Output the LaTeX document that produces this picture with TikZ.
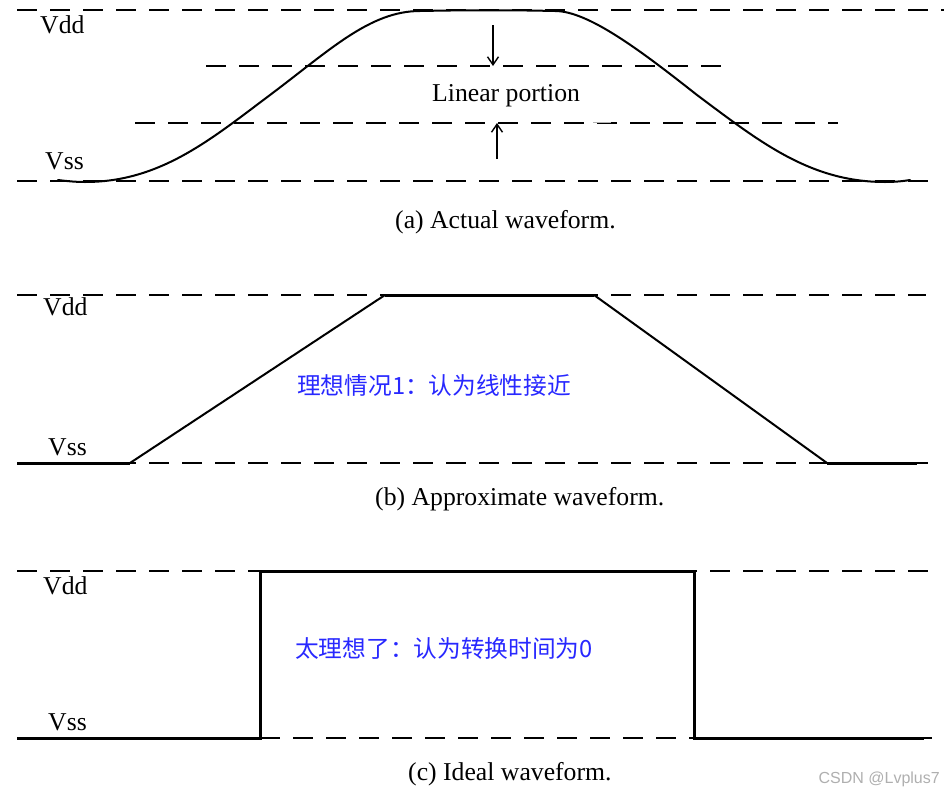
\documentclass[tikz,border=0pt]{standalone}
\usepackage{fontspec}
\setmainfont{Liberation Serif}
\newfontfamily\cjk{Noto Sans CJK SC}
\newfontfamily\wmfont{Liberation Sans}
\usetikzlibrary{arrows.meta}
\definecolor{noteblue}{RGB}{40,40,255}
\definecolor{wmgray}{RGB}{175,175,175}
\begin{document}
\begin{tikzpicture}[x=1pt,y=-1pt,
  dashline/.style={line width=2.4pt, dash pattern=on 20pt off 13pt},
  wave/.style={line width=2pt, line join=round, line cap=round},
  thickwave/.style={line width=3pt},
  lbl/.style={font=\fontsize{25.7}{30}\selectfont, inner sep=0pt, anchor=base west},
  note/.style={font=\cjk\fontsize{23.7}{28}\selectfont, text=noteblue, inner sep=0pt, anchor=west},
  marker/.style={line width=1.6pt, -{Straight Barb[length=8pt,width=11pt,line width=1.4pt]}},
]
\useasboundingbox (0,0) rectangle (944,795);

% ---------------- (a) actual waveform ----------------
\draw[dashline] (17,10) -- (944,10);
\draw[dashline] (206,66) -- (732,66);
\draw[dashline] (135,123) -- (838,123);
\draw[dashline] (17,181) -- (932,181);
\draw[line width=1pt, gray!60] (593,122) -- (611,122);

\draw[wave] (58,180) .. controls (66,181) and (75,182) .. (85,182)
  .. controls (160,182) and (210,140) .. (270,95)
  .. controls (330,50) and (370,11) .. (420,11)
  .. controls (470,10) and (510,10) .. (555,11)
  .. controls (588,11) and (640,50) .. (697,95)
  .. controls (760,142) and (810,182) .. (885,182)
  .. controls (896,182) and (904,181) .. (910,180);

\node[lbl] (vdda) at (40,33) {Vdd};
\node[lbl] (vssa) at (45,169) {Vss};
\node[lbl] (lin) at (432,101) {Linear portion};

\coordinate (adtop) at (493,25);
\coordinate (adbot) at (493,66);
\coordinate (aubot) at (497,159);
\coordinate (autop) at (497,123);
\draw[marker] (adtop) -- (adbot);
\draw[marker] (aubot) -- (autop);

\node[lbl] (capa) at (395,228) {(a) Actual waveform.};

% ---------------- (b) approximate waveform ----------------
\draw[dashline] (17,295) -- (926,295);
\draw[dashline] (17,463) -- (936,463);
\draw[thickwave] (17,463) -- (130,463);
\draw[wave] (130,463) -- (385,295);
\draw[thickwave] (385,295) -- (594,295);
\draw[wave] (594,295) -- (827,463);
\draw[thickwave] (827,463) -- (917,463);

\node[lbl] (vddb) at (43,315) {Vdd};
\node[lbl] (vssb) at (48,455) {Vss};
\node[note] (noteb) at (297,385) {理想情况1：认为线性接近};
\node[lbl] (capb) at (375,505) {(b) Approximate waveform.};

% ---------------- (c) ideal waveform ----------------
\draw[dashline] (17,571) -- (932,571);
\draw[dashline] (260,738) -- (932,738);
\draw[thickwave, line join=miter] (17,738) -- (260,738) -- (260,571) -- (694,571) -- (694,738) -- (924,738);

\node[lbl] (vddc) at (43,594) {Vdd};
\node[lbl] (vssc) at (48,730) {Vss};
\node[note] (notec) at (295,648) {太理想了：认为转换时间为0};
\node[lbl] (capc) at (408,780) {(c) Ideal waveform.};

\node[font=\wmfont\fontsize{16}{18}\selectfont, text=wmgray, inner sep=0pt, anchor=east] (wm) at (940,779) {CSDN @Lvplus7};
\end{tikzpicture}
\end{document}
